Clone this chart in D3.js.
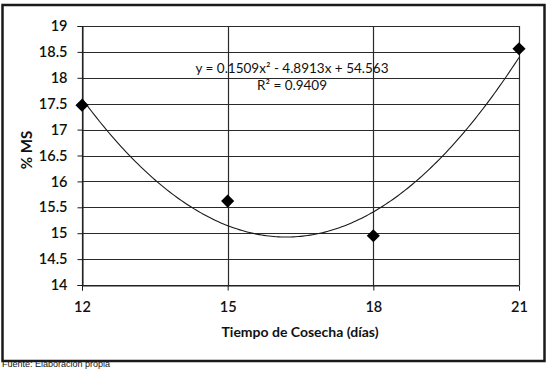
<!DOCTYPE html>
<html>
<head>
<meta charset="utf-8">
<script src="https://cdn.jsdelivr.net/npm/d3@7"></script>
<style>
  html, body { margin: 0; padding: 0; background: #fff; }
  svg { display: block; }
</style>
</head>
<body>
<div id="chart"></div>
<script>
// data
const days = [12, 15, 18, 21];
const ms = [17.47, 15.62, 14.95, 18.56];
const xTicks = [12, 15, 18, 21];
const yTicks = [14, 14.5, 15, 15.5, 16, 16.5, 17, 17.5, 18, 18.5, 19];
// trendline coefficients as printed on the chart (a x^2 + b x + c)
const trendCoef = [0.1509, -4.8913, 54.563];
const trendLabel = ["y = 0.1509x\u00b2 - 4.8913x + 54.563", "R\u00b2 = 0.9409"];

const width = 547;
const height = 369;
const margin = { left: 82, right: 28, top: 26, bottom: 84 };

const svg = d3.select("#chart").append("svg")
  .attr("width", width)
  .attr("height", height);

// outer chart border
svg.append("rect")
  .attr("x", 2.5).attr("y", 5)
  .attr("width", 542).attr("height", 356)
  .attr("fill", "#fff")
  .attr("stroke", "#1a1a1a")
  .attr("stroke-width", 2.5);

const x = d3.scaleLinear().domain([12, 21]).range([margin.left, width - margin.right]);
const y = d3.scaleLinear().domain([14, 19]).range([height - margin.bottom, margin.top]);

const font = "Lato, 'Open Sans', sans-serif";

// gridlines
svg.append("g")
  .selectAll("line")
  .data(yTicks)
  .join("line")
  .attr("x1", x(12)).attr("x2", x(21))
  .attr("y1", d => Math.round(y(d)) + 0.5).attr("y2", d => Math.round(y(d)) + 0.5)
  .attr("stroke", "#2a2a2a").attr("stroke-width", 1.2);

svg.append("g")
  .selectAll("line")
  .data(xTicks)
  .join("line")
  .attr("x1", d => Math.round(x(d)) + 0.5).attr("x2", d => Math.round(x(d)) + 0.5)
  .attr("y1", y(19)).attr("y2", y(14))
  .attr("stroke", "#2a2a2a").attr("stroke-width", 1.2);

// axes
const yAxis = svg.append("g")
  .attr("transform", `translate(${Math.round(x(12)) + 0.5},0)`)
  .call(d3.axisLeft(y).tickValues(yTicks).tickSize(5).tickPadding(10).tickFormat(d3.format("")));
const xAxis = svg.append("g")
  .attr("transform", `translate(0,${Math.round(y(14)) + 0.5})`)
  .call(d3.axisBottom(x).tickValues(xTicks).tickSize(5).tickPadding(11).tickFormat(d3.format("d")));

[xAxis, yAxis].forEach(g => {
  g.select(".domain").attr("stroke", "#1a1a1a");
  g.selectAll(".tick line").attr("stroke", "#1a1a1a");
  g.selectAll("text")
    .attr("fill", "#111")
    .style("font-family", font)
    .style("font-size", "14.5px")
    .style("font-weight", "600");
});

// axis titles
svg.append("text")
  .attr("x", 300)
  .attr("y", 337)
  .attr("text-anchor", "middle")
  .style("font-family", font)
  .style("font-size", "14px")
  .style("font-weight", "bold")
  .attr("fill", "#111")
  .text("Tiempo de Cosecha (d\u00edas)");

svg.append("text")
  .attr("transform", "translate(32,150) rotate(-90)")
  .attr("text-anchor", "middle")
  .style("font-family", font)
  .style("font-size", "15px")
  .style("font-weight", "bold")
  .attr("fill", "#111")
  .text("% MS");

// trendline
const trend = d3.range(12, 21.001, 0.05).map(d => [d, trendCoef[0] * d * d + trendCoef[1] * d + trendCoef[2]]);
svg.append("path")
  .datum(trend)
  .attr("fill", "none")
  .attr("stroke", "#1a1a1a")
  .attr("stroke-width", 1.1)
  .attr("d", d3.line().x(d => x(d[0])).y(d => y(d[1])));

// points
svg.append("g")
  .selectAll("path")
  .data(days.map((d, i) => [d, ms[i]]))
  .join("path")
  .attr("transform", d => `translate(${x(d[0])},${y(d[1])})`)
  .attr("d", d3.symbol(d3.symbolDiamond2, 110))
  .attr("fill", "#000");

// trendline label
svg.append("g")
  .selectAll("text")
  .data(trendLabel)
  .join("text")
  .attr("x", 292)
  .attr("y", (d, i) => 73 + i * 17)
  .attr("text-anchor", "middle")
  .style("font-family", font)
  .style("font-size", "13.5px")
  .attr("fill", "#111")
  .text(d => d);

// source note under the border
svg.append("text")
  .attr("x", 2)
  .attr("y", 367)
  .style("font-family", "'Liberation Sans', Arial, sans-serif")
  .style("font-size", "9px")
  .attr("fill", "#111")
  .text("Fuente: Elaboraci\u00f3n propia");
</script>
</body>
</html>
